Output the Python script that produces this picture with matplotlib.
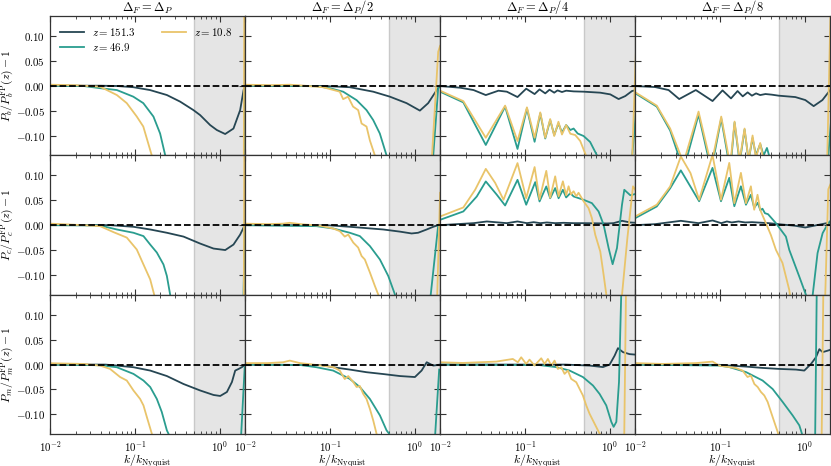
import matplotlib
matplotlib.use('Agg')
import matplotlib.pyplot as plt
from matplotlib.ticker import FixedLocator, FixedFormatter, LogLocator, NullFormatter

plt.rcParams['mathtext.fontset'] = 'cm'
plt.rcParams['font.family'] = ['DejaVu Serif']

# ---------------- data: k/k_Nyquist and ratio-1 for each panel ----------------
# row b (baryons), row c (CDM), row m (matter); column 1..4 = Delta_F = Delta_P, /2, /4, /8
# a: z=151.3, b: z=46.9, c: z=10.8
kb1a = [0.01, 0.039, 0.0614, 0.096, 0.151, 0.239, 0.343, 0.492, 0.59, 0.774, 0.929, 1.165, 1.46, 1.75, 1.92, 2.0]
yb1a = [0, 0, -0.0006, -0.003, -0.0087, -0.0187, -0.032, -0.049, -0.059, -0.079, -0.089, -0.097, -0.086, -0.049, -0.009, 0.002]
kb1b = [0.01, 0.0247, 0.039, 0.0614, 0.096, 0.126, 0.166, 0.199, 0.228, 0.3, 1.85, 1.99]
yb1b = [0, -0.0005, -0.005, -0.0087, -0.022, -0.035, -0.062, -0.096, -0.139, -0.3, -0.4, 0.0]
kb1c = [0.01, 0.02, 0.039, 0.0614, 0.0804, 0.1056, 0.126, 0.158, 0.2, 1.9, 1.99]
yb1c = [0.002, 0.001, -0.002, -0.0187, -0.035, -0.062, -0.082, -0.139, -0.3, -0.6, 0.6]

kb2a = [0.01, 0.083, 0.172, 0.325, 0.511, 0.804, 1.155, 1.447, 1.82, 2.0]
yb2a = [0, -0.0005, -0.003, -0.012, -0.022, -0.035, -0.050, -0.035, -0.009, 0.0]
kb2b = [0.01, 0.0697, 0.1, 0.1436, 0.207, 0.271, 0.325, 0.389, 0.467, 0.6, 1.5, 1.66, 1.9, 2.0]
yb2b = [0, -0.001, -0.005, -0.012, -0.029, -0.049, -0.069, -0.096, -0.14, -0.3, -0.3, -0.14, -0.005, 0.0]
kb2c = [0.01, 0.02, 0.0337, 0.05, 0.083, 0.131, 0.1436, 0.164, 0.188, 0.216, 0.237, 0.271, 0.297, 0.34, 0.45, 1.5, 1.6, 1.9, 2.0]
yb2c = [0.002, 0.001, 0.002, 0.0, -0.003, -0.012, -0.027, -0.022, -0.042, -0.049, -0.076, -0.082, -0.110, -0.14, -0.3, -0.3, -0.145, 0.068, 0.08]

kb3a = [0.01, 0.0172, 0.0248, 0.0346, 0.0488, 0.0613, 0.0819, 0.1037, 0.1303, 0.149, 0.174, 0.1955, 0.222, 0.243, 0.274, 0.307, 0.376, 0.493, 0.776, 1.018, 1.277, 1.53, 1.836, 2.06]
yb3a = [-0.0007, -0.004, -0.0087, -0.0188, -0.010, -0.012, -0.0228, -0.006, -0.0168, -0.0074, -0.0154, -0.008, -0.014, -0.0094, -0.0127, -0.010, -0.0114, -0.012, -0.014, -0.0174, -0.0268, -0.0208, -0.0107, -0.0087]
kb3b = [0.01, 0.0188, 0.0346, 0.0585, 0.0819, 0.1058, 0.1303, 0.152, 0.174, 0.199, 0.222, 0.249, 0.274, 0.307, 0.344, 0.376, 0.42, 0.493, 0.589, 0.71, 0.93, 1.7, 1.85, 2.05]
yb3b = [-0.012, -0.0335, -0.119, -0.042, -0.127, -0.0456, -0.1126, -0.0556, -0.106, -0.069, -0.099, -0.0757, -0.094, -0.079, -0.089, -0.086, -0.096, -0.101, -0.113, -0.14, -0.25, -0.3, -0.14, -0.05]
kb3c = [0.01, 0.0188, 0.0346, 0.0585, 0.0819, 0.1058, 0.1303, 0.152, 0.174, 0.199, 0.222, 0.249, 0.274, 0.307, 0.344, 0.393, 0.45, 0.526, 0.65, 1.75, 1.85, 2.05]
yb3c = [-0.010, -0.031, -0.1045, -0.040, -0.111, -0.0435, -0.1045, -0.0536, -0.1045, -0.067, -0.101, -0.0724, -0.098, -0.079, -0.0965, -0.099, -0.111, -0.14, -0.2, -0.3, -0.14, 0.075]

kb4a = [0.01, 0.0172, 0.0248, 0.0331, 0.0520, 0.0819, 0.1074, 0.1352, 0.1616, 0.186, 0.2125, 0.2388, 0.267, 0.299, 0.345, 0.41, 0.493, 0.776, 1.018, 1.277, 1.62, 2.0]
yb4a = [-0.0007, -0.0027, -0.0087, -0.0268, -0.0087, -0.0308, -0.0094, -0.0255, -0.0107, -0.0214, -0.0134, -0.020, -0.0154, -0.0188, -0.0167, -0.018, -0.020, -0.0228, -0.0288, -0.041, -0.0288, -0.0087]
kb4b = [0.01, 0.018, 0.0259, 0.0372, 0.056, 0.079, 0.1037, 0.1325, 0.149, 0.171, 0.1955, 0.218, 0.243, 0.266, 0.299, 0.328, 0.359, 0.411, 1.75, 1.9, 2.05]
yb4b = [-0.015, -0.042, -0.09, -0.17, -0.058, -0.17, -0.066, -0.17, -0.074, -0.155, -0.088, -0.15, -0.105, -0.14, -0.117, -0.14, -0.125, -0.16, -0.4, -0.14, -0.07]
kb4c = [0.01, 0.018, 0.0259, 0.0372, 0.056, 0.079, 0.1037, 0.1325, 0.149, 0.171, 0.1955, 0.218, 0.243, 0.266, 0.299, 0.328, 0.376, 1.75, 1.85, 2.05]
yb4c = [-0.013, -0.040, -0.086, -0.155, -0.052, -0.16, -0.062, -0.16, -0.072, -0.15, -0.086, -0.15, -0.10, -0.145, -0.115, -0.15, -0.2, -0.4, -0.14, 0.2]

kc1a = [0.01, 0.051, 0.0965, 0.152, 0.239, 0.376, 0.591, 0.849, 1.167, 1.46, 1.75, 2.01]
yc1a = [0, 0, -0.0033, -0.0087, -0.0153, -0.023, -0.037, -0.047, -0.050, -0.039, -0.019, 0.002]
kc1b = [0.01, 0.039, 0.0614, 0.0965, 0.1266, 0.152, 0.182, 0.218, 0.239, 0.261, 0.35, 1.8, 1.99]
yc1b = [0, -0.0007, -0.0087, -0.0153, -0.022, -0.039, -0.055, -0.079, -0.102, -0.139, -0.3, -0.4, 0.01]
kc1c = [0.01, 0.0248, 0.039, 0.056, 0.0805, 0.1056, 0.1266, 0.152, 0.169, 0.22, 1.9, 1.99]
yc1c = [0.003, 0.0, -0.002, -0.014, -0.025, -0.049, -0.079, -0.109, -0.139, -0.3, -0.6, 0.6]

kc2a = [0.01, 0.1, 0.172, 0.427, 0.671, 0.922, 1.10, 1.39, 1.66, 1.9, 2.0]
yc2a = [0, -0.0005, -0.0033, -0.0087, -0.013, -0.0167, -0.0153, -0.0087, -0.0033, 0.0, 0.0]
kc2b = [0.01, 0.0696, 0.1095, 0.172, 0.226, 0.297, 0.39, 0.489, 0.586, 0.7, 1.45, 1.55, 1.9, 2.0]
yc2b = [0, -0.002, -0.0067, -0.0153, -0.022, -0.042, -0.069, -0.102, -0.139, -0.25, -0.3, -0.14, 0.0, 0.003]
kc2c = [0.01, 0.0185, 0.0281, 0.0337, 0.045, 0.076, 0.1095, 0.131, 0.150, 0.165, 0.189, 0.216, 0.237, 0.259, 0.297, 0.34, 0.372, 0.45, 1.7, 1.85, 2.0]
yc2c = [0.003, 0.002, 0.003, 0.0047, 0.002, -0.001, -0.0067, -0.012, -0.023, -0.019, -0.035, -0.045, -0.062, -0.069, -0.095, -0.122, -0.139, -0.25, -0.3, -0.14, 0.065]

kc3a = [0.01, 0.0248, 0.0356, 0.0613, 0.0819, 0.1058, 0.127, 0.152, 0.182, 0.228, 0.2855, 0.376, 0.493, 0.93, 1.11, 1.40, 1.75, 2.06]
yc3a = [0, 0.004, 0.0074, 0.004, 0.0074, 0.004, 0.006, 0.004, 0.0054, 0.004, 0.0047, 0.004, 0.004, 0.0034, 0.004, 0.0087, 0.0054, 0.0047]
kc3b = [0.01, 0.0188, 0.0271, 0.0346, 0.0467, 0.0585, 0.0819, 0.1037, 0.1325, 0.149, 0.179, 0.199, 0.228, 0.25, 0.281, 0.307, 0.344, 0.376, 0.493, 0.618, 0.741, 0.85, 0.973, 1.085, 1.221, 1.40, 1.49, 1.754, 2.06]
yc3b = [0.0107, 0.0275, 0.0576, 0.0878, 0.061, 0.0395, 0.091, 0.041, 0.0864, 0.0476, 0.0777, 0.054, 0.0744, 0.054, 0.071, 0.0556, 0.0643, 0.0576, 0.0509, 0.0442, 0.0275, 0.0007, -0.046, -0.0784, -0.046, 0.041, 0.071, 0.060, 0.063]
kc3c = [0.01, 0.0188, 0.0259, 0.0346, 0.0446, 0.056, 0.0819, 0.1037, 0.1303, 0.149, 0.179, 0.199, 0.228, 0.25, 0.281, 0.307, 0.328, 0.349, 0.376, 0.404, 0.430, 0.493, 0.565, 0.618, 0.677, 0.776, 0.85, 0.915, 1.221, 1.40, 1.62, 1.887, 2.06]
yc3c = [0.0174, 0.0355, 0.071, 0.113, 0.085, 0.051, 0.1246, 0.054, 0.1166, 0.052, 0.109, 0.055, 0.098, 0.058, 0.088, 0.060, 0.078, 0.062, 0.068, 0.058, 0.065, 0.048, 0.034, 0.0141, -0.0194, -0.053, -0.10, -0.140, -0.26, -0.14, -0.026, 0.078, 0.068]

kc4a = [0.01, 0.0172, 0.0346, 0.056, 0.0819, 0.1037, 0.121, 0.138, 0.166, 0.199, 0.239, 0.376, 0.493, 0.776, 1.018, 1.33, 2.0]
yc4a = [0, 0.002, 0.0087, 0.004, 0.0094, 0.004, 0.0074, 0.0054, 0.0074, 0.0054, 0.006, 0.004, 0.002, -0.0013, -0.0047, -0.0007, 0.0054]
kc4b = [0.01, 0.018, 0.0259, 0.0346, 0.0569, 0.0818, 0.103, 0.129, 0.148, 0.177, 0.203, 0.232, 0.254, 0.28, 0.30, 0.318, 0.34, 0.37, 0.458, 0.601, 0.658, 0.863, 1.036, 1.15, 1.42, 1.63, 1.9, 2.05]
yc4b = [0.014, 0.0375, 0.074, 0.110, 0.048, 0.115, 0.048, 0.095, 0.038, 0.078, 0.041, 0.061, 0.035, 0.045, 0.030, 0.033, 0.024, 0.022, 0.004, -0.023, -0.0495, -0.103, -0.14, -0.19, -0.056, -0.016, 0.004, 0.01]
kc4c = [0.01, 0.018, 0.0259, 0.0346, 0.045, 0.0569, 0.0818, 0.103, 0.129, 0.148, 0.177, 0.203, 0.232, 0.254, 0.278, 0.30, 0.349, 0.40, 0.458, 0.548, 0.658, 0.75, 1.6, 1.75, 1.9, 2.05]
yc4c = [0.0174, 0.041, 0.0777, 0.138, 0.1045, 0.051, 0.141, 0.051, 0.125, 0.044, 0.105, 0.044, 0.078, 0.031, 0.061, 0.030, 0.004, -0.02, -0.0495, -0.076, -0.13, -0.2, -0.3, -0.14, 0.072, 0.085]

km1a = [0.01, 0.045, 0.0613, 0.0965, 0.152, 0.239, 0.376, 0.591, 0.849, 1.018, 1.222, 1.40, 1.53, 1.68, 1.84, 2.01]
ym1a = [0, 0, -0.002, -0.0053, -0.012, -0.023, -0.039, -0.052, -0.061, -0.063, -0.055, -0.035, -0.012, -0.0087, -0.005, 0.0]
km1b = [0.01, 0.039, 0.0613, 0.0965, 0.1266, 0.152, 0.182, 0.208, 0.239, 0.25, 0.35, 1.7, 1.8, 1.98]
ym1b = [0, -0.0013, -0.0053, -0.0187, -0.032, -0.045, -0.069, -0.095, -0.132, -0.139, -0.3, -0.4, -0.14, -0.005]
km1c = [0.01, 0.0248, 0.039, 0.0511, 0.0671, 0.0805, 0.0965, 0.1156, 0.1266, 0.1386, 0.159, 0.2]
ym1c = [0.0027, 0.0013, -0.002, -0.0087, -0.025, -0.032, -0.052, -0.069, -0.082, -0.105, -0.139, -0.25]

km2a = [0.01, 0.08, 0.1095, 0.172, 0.271, 0.427, 0.671, 1.009, 1.21, 1.39, 1.52, 1.66, 2.0]
ym2a = [0, -0.001, -0.0053, -0.010, -0.0153, -0.019, -0.023, -0.025, -0.012, 0.0047, 0.0013, -0.002, 0.0]
km2b = [0.01, 0.0443, 0.0696, 0.1095, 0.172, 0.226, 0.297, 0.39, 0.467, 0.502, 0.65, 1.6, 1.75, 1.95]
ym2b = [0, -0.0007, -0.0053, -0.012, -0.0287, -0.045, -0.069, -0.102, -0.132, -0.139, -0.3, -0.3, -0.14, -0.01]
km2c = [0.01, 0.0185, 0.0281, 0.0337, 0.0443, 0.0696, 0.1095, 0.131, 0.150, 0.165, 0.189, 0.207, 0.226, 0.248, 0.271, 0.297, 0.325, 0.356, 0.45]
ym2c = [0.003, 0.003, 0.0047, 0.008, 0.003, -0.0007, -0.005, -0.012, -0.029, -0.023, -0.035, -0.045, -0.043, -0.059, -0.069, -0.089, -0.112, -0.139, -0.25]

km3a = [0.01, 0.3, 0.58, 0.834, 1.0, 1.146, 1.254, 1.437, 1.72, 2.03]
ym3a = [0, 0, -0.002, -0.005, 0.0, 0.018, 0.033, 0.025, 0.021, 0.02]
km3b = [0.01, 0.149, 0.234, 0.337, 0.484, 0.636, 0.762, 0.913, 1.047, 1.115, 1.2, 1.29, 1.35, 1.45]
ym3b = [0, -0.001, -0.005, -0.012, -0.025, -0.042, -0.059, -0.082, -0.115, -0.125, -0.115, -0.035, 0.098, 0.3]
km3c = [0.01, 0.0185, 0.0291, 0.0459, 0.0721, 0.0826, 0.0905, 0.1037, 0.1135, 0.130, 0.156, 0.171, 0.187, 0.205, 0.224, 0.245, 0.269, 0.294, 0.322, 0.352, 0.404, 0.442, 0.484, 0.53, 0.58, 0.665, 0.762, 0.913, 1.45, 1.6]
ym3c = [0.0047, 0.0033, 0.0047, 0.006, 0.0113, 0.0047, 0.0147, 0.0013, 0.010, -0.002, 0.0127, 0.0013, 0.0113, -0.002, 0.008, -0.0087, -0.0053, -0.0187, -0.012, -0.0287, -0.0354, -0.0487, -0.062, -0.082, -0.0987, -0.1187, -0.1387, -0.169, -0.3, 0.3]

km4a = [0.01, 0.0982, 0.129, 0.203, 0.319, 0.502, 0.79, 0.99, 1.188, 1.36, 1.49, 1.63, 1.87, 2.03]
ym4a = [0, -0.0005, -0.002, -0.004, -0.0067, -0.0087, -0.010, -0.012, 0.0013, 0.0147, 0.031, 0.025, 0.028, 0.03]
km4b = [0.01, 0.0982, 0.129, 0.203, 0.319, 0.419, 0.55, 0.721, 0.865, 0.93, 1.1, 1.3, 1.42]
ym4b = [0, -0.002, -0.005, -0.015, -0.032, -0.049, -0.075, -0.102, -0.122, -0.139, -0.25, -0.3, 0.3]
km4c = [0.01, 0.021, 0.052, 0.082, 0.098, 0.129, 0.155, 0.185, 0.212, 0.232, 0.255, 0.279, 0.305, 0.334, 0.366, 0.4, 0.438, 0.48, 0.6, 1.55, 1.7]
ym4c = [0.003, 0.0013, 0.003, 0.006, -0.002, -0.005, -0.007, -0.012, -0.025, -0.022, -0.039, -0.045, -0.055, -0.062, -0.075, -0.095, -0.115, -0.135, -0.2, -0.3, 0.3]

series_labels = [r'$z = 151.3$', r'$z = 46.9$', r'$z = 10.8$']
series_colors = ['#264653', '#2a9d8f', '#e9c46a']
col_titles = [r'$\Delta_F = \Delta_P$', r'$\Delta_F = \Delta_P/2$', r'$\Delta_F = \Delta_P/4$', r'$\Delta_F = \Delta_P/8$']
row_ylabels = [r'$P_b/P_b^{\rm FP}(z) - 1$', r'$P_c/P_c^{\rm FP}(z) - 1$', r'$P_m/P_m^{\rm FP}(z) - 1$']
ytick_vals = [-0.10, -0.05, 0.0, 0.05, 0.10]
ytick_labels = [r'$-0.10$', r'$-0.05$', r'$0.00$', r'$0.05$', r'$0.10$']
xtick_vals = [0.01, 0.1, 1.0]
xtick_labels = [r'$10^{-2}$', r'$10^{-1}$', r'$10^{0}$']
shade_start = 0.5

panels = [
    [[(kb1a, yb1a), (kb1b, yb1b), (kb1c, yb1c)],
     [(kb2a, yb2a), (kb2b, yb2b), (kb2c, yb2c)],
     [(kb3a, yb3a), (kb3b, yb3b), (kb3c, yb3c)],
     [(kb4a, yb4a), (kb4b, yb4b), (kb4c, yb4c)]],
    [[(kc1a, yc1a), (kc1b, yc1b), (kc1c, yc1c)],
     [(kc2a, yc2a), (kc2b, yc2b), (kc2c, yc2c)],
     [(kc3a, yc3a), (kc3b, yc3b), (kc3c, yc3c)],
     [(kc4a, yc4a), (kc4b, yc4b), (kc4c, yc4c)]],
    [[(km1a, ym1a), (km1b, ym1b), (km1c, ym1c)],
     [(km2a, ym2a), (km2b, ym2b), (km2c, ym2c)],
     [(km3a, ym3a), (km3b, ym3b), (km3c, ym3c)],
     [(km4a, ym4a), (km4b, ym4b), (km4c, ym4c)]],
]

fig, axes = plt.subplots(3, 4, figsize=(8.31, 4.66), dpi=100)
fig.subplots_adjust(left=0.0602, right=0.999, top=0.9657, bottom=0.068, wspace=0, hspace=0)

TICK_FS = 7.8
LABEL_FS = 8.4
TITLE_FS = 9.0
for r in range(3):
    for c in range(4):
        ax = axes[r, c]
        ax.set_xscale('log')
        ax.axvspan(shade_start, 10, facecolor='#e5e5e5', edgecolor='#c9c9c9', lw=1.0, zorder=0)
        for (kk, yy), col, lab in zip(panels[r][c], series_colors, series_labels):
            ax.plot(kk, yy, color=col, lw=1.3, label=lab, zorder=2)
        ax.axhline(0, color='k', ls='--', lw=1.3, zorder=5)
        ax.set_xlim(0.01, 2.0)
        ax.set_ylim(-0.14, 0.14)
        ax.xaxis.set_major_locator(FixedLocator(xtick_vals))
        ax.xaxis.set_minor_locator(LogLocator(base=10, subs=[2, 3, 4, 5, 6, 7, 8, 9]))
        ax.xaxis.set_minor_formatter(NullFormatter())
        ax.yaxis.set_major_locator(FixedLocator(ytick_vals))
        if r == 2:
            ax.xaxis.set_major_formatter(FixedFormatter(xtick_labels))
            ax.set_xlabel(r'$k/k_{\rm Nyquist}$', fontsize=LABEL_FS + 0.2)
            ax.xaxis.set_label_coords(0.5, -0.128)
        else:
            ax.xaxis.set_major_formatter(NullFormatter())
        if c == 0:
            ax.yaxis.set_major_formatter(FixedFormatter(ytick_labels))
            ax.set_ylabel(row_ylabels[r], fontsize=LABEL_FS)
            ax.yaxis.set_label_coords(-0.172, 0.5)
        else:
            ax.yaxis.set_major_formatter(NullFormatter())
        if r == 0:
            ax.set_title(col_titles[c], fontsize=TITLE_FS, pad=0.8)
        ax.tick_params(which='both', direction='in', top=True, right=True,
                       labelsize=TICK_FS, color='#333333', pad=3.5)
        ax.tick_params(which='major', length=4.5, width=0.8)
        ax.tick_params(which='minor', length=2.5, width=0.6)
        for sp in ax.spines.values():
            sp.set_color('#333333')
            sp.set_linewidth(0.9)

axes[0, 0].legend(loc='upper left', ncol=2, frameon=False, fontsize=TICK_FS,
                  handlelength=2.2, handletextpad=0.8, columnspacing=2.4,
                  labelspacing=0.3, borderaxespad=0.5)

fig.savefig('out.png', dpi=100)
